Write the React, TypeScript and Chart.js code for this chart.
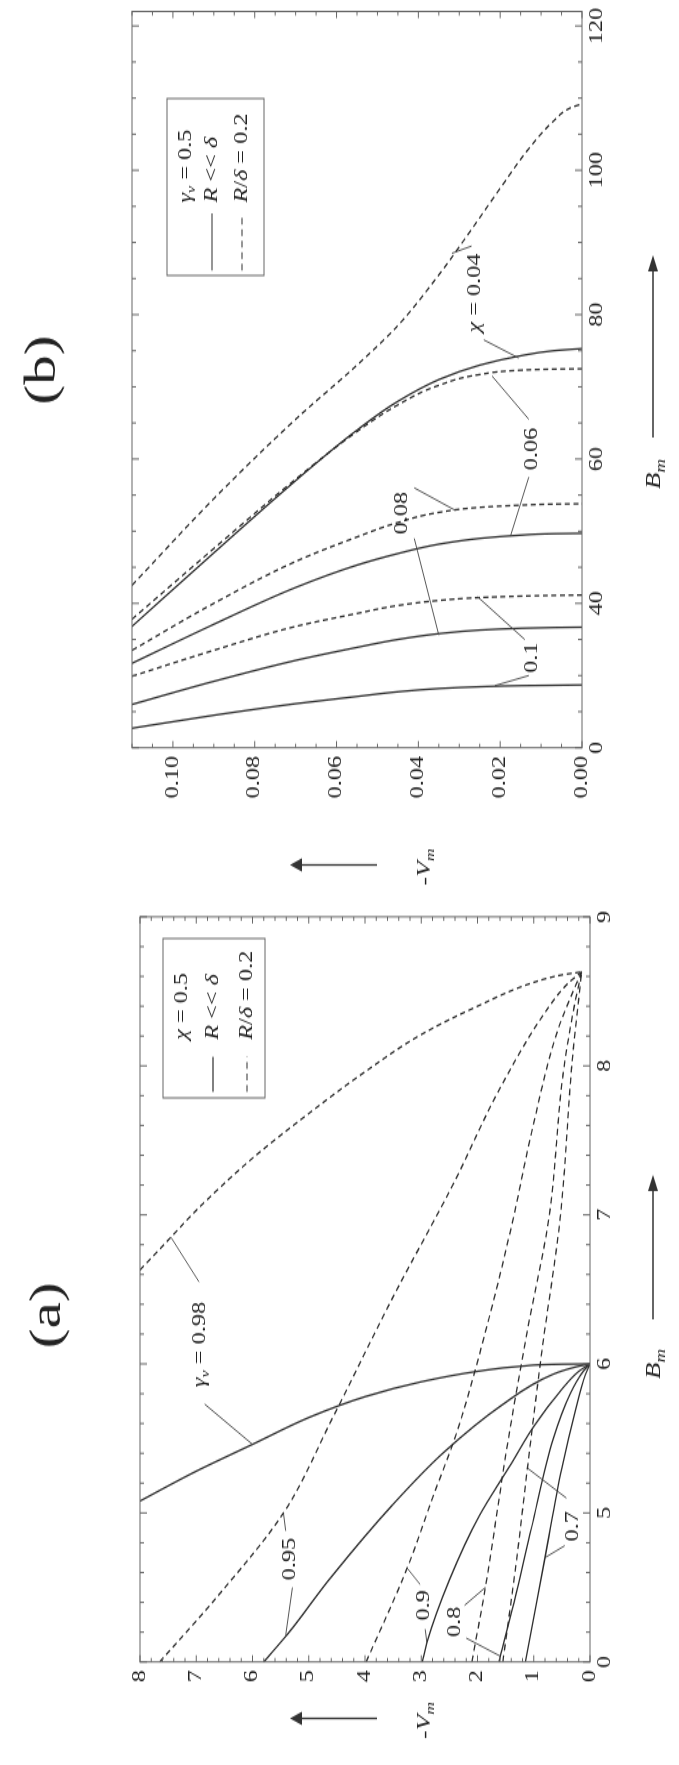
import React, { useEffect, useRef } from "react";
import { Chart, registerables } from "chart.js";
Chart.register(...registerables);

const SERIF = '"Liberation Serif", "Times New Roman", Times, serif';
const PAGE_H = 1765;
const LAND_W = 1307;
const LAND_H = 679;
const STRETCH = PAGE_H / LAND_W;

// ---------------- Panel (a): x = B_m, y = -V_m ----------------
const aBTicks = [4, 5, 6, 7, 8, 9];
const aBTickLabels = ["0", "5", "6", "7", "8", "9"];
const aVTicks = [0, 1, 2, 3, 4, 5, 6, 7, 8];

// solid curves (R << delta)
const aS098_V = [8, 7, 6, 5, 4, 3, 2, 1.2, 0.5, 0];
const aS098_B = [5.08, 5.28, 5.46, 5.64, 5.78, 5.88, 5.95, 5.985, 5.998, 6.0];
const aS095_V = [5.8, 5.37, 4.6, 3.52, 2.59, 1.58, 0.66, 0.25, 0];
const aS095_B = [4.0, 4.19, 4.57, 5.05, 5.41, 5.72, 5.93, 5.98, 6.0];
const aS090_V = [2.98, 2.9, 2.5, 1.97, 1.4, 1.0, 0.5, 0.2, 0];
const aS090_B = [4.0, 4.13, 4.55, 4.98, 5.33, 5.58, 5.83, 5.95, 6.0];
const aS080_V = [1.62, 1.35, 1.04, 0.65, 0.35, 0.12, 0];
const aS080_B = [4.0, 4.4, 4.9, 5.5, 5.8, 5.95, 6.0];
const aS070_V = [1.15, 0.95, 0.8, 0.5, 0.25, 0.08, 0];
const aS070_B = [4.0, 4.4, 4.7, 5.3, 5.7, 5.93, 6.0];
// dashed curves (R/delta = 0.2)
const aD098_V = [8, 7.45, 7, 6, 5, 4, 3, 2, 1, 0.5, 0.15];
const aD098_B = [6.63, 6.85, 7.03, 7.38, 7.68, 7.96, 8.21, 8.4, 8.56, 8.61, 8.63];
const aD095_V = [7.65, 6.6, 5.45, 4.56, 3.5, 2.44, 1.6, 0.76, 0.4, 0.15];
const aD095_B = [4.0, 4.45, 5.0, 5.65, 6.45, 7.2, 7.85, 8.38, 8.55, 8.63];
const aD090_V = [3.98, 3.25, 2.8, 2.36, 1.8, 1.38, 1.04, 0.59, 0.3, 0.15];
const aD090_B = [4.0, 4.63, 5.1, 5.55, 6.3, 6.95, 7.55, 8.22, 8.5, 8.63];
const aD080_V = [2.1, 1.86, 1.45, 1.1, 0.73, 0.48, 0.28, 0.15];
const aD080_B = [4.0, 4.5, 5.5, 6.25, 6.98, 7.94, 8.4, 8.63];
const aD070_V = [1.55, 1.3, 1.1, 0.85, 0.53, 0.31, 0.2, 0.15];
const aD070_B = [4.0, 4.7, 5.34, 6.1, 6.98, 8.06, 8.45, 8.63];

// ---------------- Panel (b): x = B_m, y = -V_m ----------------
const bBTicks = [20, 40, 60, 80, 100, 120];
const bBTickLabels = ["0", "40", "60", "80", "100", "120"];
const bVTicks = [0, 0.02, 0.04, 0.06, 0.08, 0.1];
const bV = [0.11, 0.09, 0.07, 0.055, 0.045, 0.035, 0.025, 0.015, 0.007, 0];
const bS004_B = [36.8, 47.0, 57.0, 64.0, 68.0, 71.0, 73.0, 74.3, 75.0, 75.3];
const bS006_B = [31.7, 37.1, 42.2, 45.3, 46.9, 48.2, 49.0, 49.45, 49.65, 49.7];
const bS008_B = [26.0, 29.2, 32.1, 33.9, 35.0, 35.8, 36.3, 36.55, 36.65, 36.7];
const bS010_B = [22.7, 24.5, 26.1, 27.1, 27.75, 28.2, 28.45, 28.6, 28.65, 28.7];
const bD004_V = [0.11, 0.09, 0.07, 0.055, 0.045, 0.035, 0.028, 0.02, 0.013, 0.007, 0.003, 0];
const bD004_B = [42.5, 54.5, 65.5, 73.0, 78.5, 85.5, 91.0, 97.5, 103.0, 106.8, 108.6, 109.2];
const bD006_B = [37.8, 47.6, 57.2, 63.8, 67.5, 70.2, 71.7, 72.3, 72.45, 72.5];
const bD008_B = [33.5, 40.0, 45.8, 49.2, 51.2, 52.6, 53.3, 53.6, 53.75, 53.8];
const bD010_B = [29.9, 33.5, 36.8, 38.6, 39.7, 40.4, 40.8, 41.0, 41.1, 41.15];

type Seg = { t: string; it?: boolean; sub?: boolean };
type CurveLabel = { segs: Seg[]; at: [number, number]; leaders: number[][] };

// curve annotations: [B, V] anchor + leader segments [B1, V1, B2, V2]
const aLabels: CurveLabel[] = [
  { segs: [{ t: "γ", it: true }, { t: "v", it: true, sub: true }, { t: " = 0.98" }], at: [6.13, 6.92],
    leaders: [[6.55, 6.95, 6.85, 7.45], [5.73, 6.85, 5.46, 6.0]] },
  { segs: [{ t: "0.95" }], at: [4.69, 5.33], leaders: [[4.88, 5.41, 5.0, 5.45], [4.5, 5.29, 4.18, 5.41]] },
  { segs: [{ t: "0.9" }], at: [4.38, 2.94], leaders: [[4.52, 3.02, 4.63, 3.25], [4.22, 2.93, 4.13, 2.9]] },
  { segs: [{ t: "0.8" }], at: [4.27, 2.4], leaders: [[4.38, 2.23, 4.5, 1.86], [4.16, 2.2, 4.04, 1.6]] },
  { segs: [{ t: "0.7" }], at: [4.91, 0.3], leaders: [[5.1, 0.42, 5.3, 1.11], [4.78, 0.45, 4.7, 0.8]] },
];
const bLabels: CurveLabel[] = [
  { segs: [{ t: "χ", it: true }, { t: " = 0.04" }], at: [83, 0.026], leaders: [[89.5, 0.027, 88.5, 0.0318], [76.5, 0.024, 74.0, 0.0155]] },
  { segs: [{ t: "0.06" }], at: [61.4, 0.0122], leaders: [[65.5, 0.013, 71.5, 0.022], [57.5, 0.013, 49.3, 0.0175]] },
  { segs: [{ t: "0.08" }], at: [52.5, 0.044], leaders: [[56, 0.041, 52.9, 0.031], [49, 0.041, 35.6, 0.035]] },
  { segs: [{ t: "0.1" }], at: [32.5, 0.0122], leaders: [[35, 0.014, 40.9, 0.0255], [30, 0.013, 28.6, 0.0213]] },
];

const LINE = "#2e2e2e";
const FRAME = "#666";
const TEXT = "#222";

function segFont(size: number, s: Seg) {
  const px = s.sub ? Math.round(size * 0.68) : size;
  return `${s.it ? "italic " : ""}${px}px ${SERIF}`;
}
function richWidth(ctx: CanvasRenderingContext2D, segs: Seg[], size: number) {
  let w = 0;
  for (const s of segs) { ctx.font = segFont(size, s); w += ctx.measureText(s.t).width; }
  return w;
}
function drawRich(ctx: CanvasRenderingContext2D, segs: Seg[], x: number, y: number, size: number, align: "left" | "center") {
  const w = richWidth(ctx, segs, size);
  let cx = align === "center" ? x - w / 2 : x;
  ctx.textAlign = "left";
  ctx.textBaseline = "middle";
  ctx.fillStyle = TEXT;
  for (const s of segs) {
    ctx.font = segFont(size, s);
    ctx.fillText(s.t, cx, s.sub ? y + size * 0.3 : y);
    cx += ctx.measureText(s.t).width;
  }
}
function line(ctx: CanvasRenderingContext2D, x1: number, y1: number, x2: number, y2: number) {
  ctx.beginPath(); ctx.moveTo(x1, y1); ctx.lineTo(x2, y2); ctx.stroke();
}
function arrow(ctx: CanvasRenderingContext2D, x1: number, y1: number, x2: number, y2: number, head: number, half: number) {
  ctx.strokeStyle = "#333"; ctx.lineWidth = 1.3; ctx.setLineDash([]);
  const ang = Math.atan2(y2 - y1, x2 - x1);
  line(ctx, x1, y1, x2 - Math.cos(ang) * head * 0.6, y2 - Math.sin(ang) * head * 0.6);
  ctx.fillStyle = "#333";
  ctx.beginPath();
  ctx.moveTo(x2, y2);
  ctx.lineTo(x2 - Math.cos(ang) * head - Math.sin(ang) * half, y2 - Math.sin(ang) * head + Math.cos(ang) * half);
  ctx.lineTo(x2 - Math.cos(ang) * head + Math.sin(ang) * half, y2 - Math.sin(ang) * head - Math.cos(ang) * half);
  ctx.closePath(); ctx.fill();
}

type Decor = {
  title: string; titleX: number; titleY: number;
  xMin: number; xMax: number; xMinor: number; xMajor: number[];
  yMin: number; yMax: number; yMinor: number; yMajor: number[];
  vLabelX: number; vLabelY: number; vArrowX: number; vArrowY1: number; vArrowY2: number;
  bLabelX: number; bLabelY: number; bArrowX1: number; bArrowX2: number; bArrowY: number;
  legendBox: number[]; legendRows: { y: number; kind: "none" | "solid" | "dash"; segs: Seg[] }[];
  legendLineX: number[]; legendTextX: number;
  labels: CurveLabel[];
};

function decorPlugin(d: Decor) {
  return {
    id: "decor",
    afterDraw(chart: any) {
      const ctx: CanvasRenderingContext2D = chart.ctx;
      const a = chart.chartArea;
      const xs = chart.scales.x, ys = chart.scales.y;
      ctx.save();
      ctx.strokeStyle = FRAME; ctx.lineWidth = 1; ctx.setLineDash([]);
      ctx.strokeRect(a.left, a.top, a.right - a.left, a.bottom - a.top);
      const isMajor = (v: number, arr: number[]) => arr.some((m) => Math.abs(m - v) < 1e-9);
      const nx = Math.round((d.xMax - d.xMin) / d.xMinor);
      for (let i = 0; i <= nx; i++) {
        const v = d.xMin + i * d.xMinor;
        const p = xs.getPixelForValue(v);
        const len = isMajor(v, d.xMajor) ? 7 : 4;
        line(ctx, p, a.bottom, p, a.bottom - len);
        line(ctx, p, a.top, p, a.top + len);
      }
      const ny = Math.round((d.yMax - d.yMin) / d.yMinor);
      for (let i = 0; i <= ny; i++) {
        const v = d.yMin + i * d.yMinor;
        const p = ys.getPixelForValue(v);
        const len = isMajor(v, d.yMajor) ? 5 : 3;
        line(ctx, a.left, p, a.left + len, p);
        line(ctx, a.right, p, a.right - len, p);
      }
      ctx.fillStyle = TEXT; ctx.font = `44px ${SERIF}`; ctx.textAlign = "center"; ctx.textBaseline = "middle";
      ctx.fillText(d.title, d.titleX, d.titleY);
      drawRich(ctx, [{ t: "-" }, { t: "V", it: true }, { t: "m", it: true, sub: true }], d.vLabelX, d.vLabelY, 19, "center");
      arrow(ctx, d.vArrowX, d.vArrowY1, d.vArrowX, d.vArrowY2, 12, 5);
      drawRich(ctx, [{ t: "B", it: true }, { t: "m", it: true, sub: true }], d.bLabelX, d.bLabelY, 20, "center");
      arrow(ctx, d.bArrowX1, d.bArrowY, d.bArrowX2, d.bArrowY, 12, 5);
      const [lx1, ly1, lx2, ly2] = d.legendBox;
      ctx.strokeStyle = FRAME; ctx.lineWidth = 1; ctx.setLineDash([]);
      ctx.strokeRect(lx1, ly1, lx2 - lx1, ly2 - ly1);
      for (const r of d.legendRows) {
        if (r.kind !== "none") {
          ctx.strokeStyle = LINE; ctx.lineWidth = 1.2;
          ctx.setLineDash(r.kind === "dash" ? [5, 3.5] : []);
          line(ctx, d.legendLineX[0], r.y, d.legendLineX[1], r.y);
          ctx.setLineDash([]);
        }
        drawRich(ctx, r.segs, d.legendTextX, r.y, 18, "left");
      }
      ctx.strokeStyle = "#444"; ctx.lineWidth = 0.9; ctx.setLineDash([]);
      for (const lb of d.labels) {
        for (const L of lb.leaders) {
          line(ctx, xs.getPixelForValue(L[0]), ys.getPixelForValue(L[1]), xs.getPixelForValue(L[2]), ys.getPixelForValue(L[3]));
        }
        drawRich(ctx, lb.segs, xs.getPixelForValue(lb.at[0]), ys.getPixelForValue(lb.at[1]), 18, "center");
      }
      ctx.restore();
    },
  };
}

function series(B: number[], V: number[], dashed: boolean) {
  return {
    data: B.map((b, i) => ({ x: b, y: V[i] })),
    showLine: true,
    borderColor: LINE,
    borderWidth: 1.3,
    borderDash: dashed ? [5, 3.5] : [],
    pointRadius: 0,
    cubicInterpolationMode: "monotone",
    fill: false,
  };
}

function makeConfig(opts: {
  datasets: any[]; xMin: number; xMax: number; xTicks: number[]; xLabels: string[];
  yMin: number; yMax: number; yTicks: number[]; yFmt: (v: number) => string;
  yAxisW: number; padding: any; decor: Decor;
}) {
  return {
    type: "scatter",
    data: { datasets: opts.datasets },
    options: {
      animation: false,
      responsive: false,
      maintainAspectRatio: false,
      devicePixelRatio: 1,
      layout: { padding: opts.padding },
      plugins: { legend: { display: false }, tooltip: { enabled: false }, title: { display: false } },
      scales: {
        x: {
          type: "linear", min: opts.xMin, max: opts.xMax,
          grid: { display: false, drawTicks: false }, border: { display: false },
          afterBuildTicks: (s: any) => { s.ticks = opts.xTicks.map((v) => ({ value: v })); },
          afterFit: (s: any) => { s.height = 30; },
          ticks: {
            autoSkip: false, maxRotation: 0, minRotation: 0, padding: 4, color: TEXT,
            font: { family: SERIF, size: 18 },
            callback: (v: number) => { const i = opts.xTicks.findIndex((t) => Math.abs(t - v) < 1e-9); return i >= 0 ? opts.xLabels[i] : ""; },
          },
        },
        y: {
          type: "linear", min: opts.yMin, max: opts.yMax,
          grid: { display: false, drawTicks: false }, border: { display: false },
          afterBuildTicks: (s: any) => { s.ticks = opts.yTicks.map((v) => ({ value: v })); },
          afterFit: (s: any) => { s.width = opts.yAxisW; },
          ticks: { autoSkip: false, padding: 6, color: TEXT, font: { family: SERIF, size: 18 }, callback: (v: number) => opts.yFmt(v) },
        },
      },
    },
    plugins: [decorPlugin(opts.decor)],
  };
}

function configA() {
  const datasets = [
    series(aS098_B, aS098_V, false), series(aS095_B, aS095_V, false), series(aS090_B, aS090_V, false),
    series(aS080_B, aS080_V, false), series(aS070_B, aS070_V, false),
    series(aD098_B, aD098_V, true), series(aD095_B, aD095_V, true), series(aD090_B, aD090_V, true),
    series(aD080_B, aD080_V, true), series(aD070_B, aD070_V, true),
  ];
  return makeConfig({
    datasets, xMin: 4, xMax: 9, xTicks: aBTicks, xLabels: aBTickLabels,
    yMin: 0, yMax: 8, yTicks: aVTicks, yFmt: (v) => String(Math.round(v)),
    yAxisW: 30, padding: { left: 46.3, right: 11.9, top: 140, bottom: 59 },
    decor: {
      title: "(a)", titleX: 333, titleY: 48,
      xMin: 4, xMax: 9, xMinor: 0.2, xMajor: aBTicks, yMin: 0, yMax: 8, yMinor: 0.2, yMajor: aVTicks,
      vLabelX: 33, vLabelY: 425, vArrowX: 34.5, vArrowY1: 377, vArrowY2: 290,
      bLabelX: 297, bLabelY: 655, bArrowX1: 330, bArrowX2: 437, bArrowY: 653,
      legendBox: [494, 163, 612, 265],
      legendRows: [
        { y: 182, kind: "none", segs: [{ t: "χ", it: true }, { t: " = 0.5" }] },
        { y: 213, kind: "solid", segs: [{ t: "R", it: true }, { t: " << " }, { t: "δ", it: true }] },
        { y: 247, kind: "dash", segs: [{ t: "R", it: true }, { t: "/" }, { t: "δ", it: true }, { t: " = 0.2" }] },
      ],
      legendLineX: [498.5, 524.4], legendTextX: 537,
      labels: aLabels,
    },
  });
}

function configB() {
  const datasets = [
    series(bS004_B, bV, false), series(bS006_B, bV, false), series(bS008_B, bV, false), series(bS010_B, bV, false),
    series(bD004_B, bD004_V, true), series(bD006_B, bV, true), series(bD008_B, bV, true), series(bD010_B, bV, true),
  ];
  return makeConfig({
    datasets, xMin: 20, xMax: 122, xTicks: bBTicks, xLabels: bBTickLabels,
    yMin: 0, yMax: 0.11, yTicks: bVTicks, yFmt: (v) => v.toFixed(2),
    yAxisW: 45, padding: { left: 68.3, right: 8.5, top: 132, bottom: 67 },
    decor: {
      title: "(b)", titleX: 393, titleY: 43,
      xMin: 20, xMax: 120, xMinor: 5, xMajor: bBTicks, yMin: 0, yMax: 0.11, yMinor: 0.005, yMajor: bVTicks,
      vLabelX: 25, vLabelY: 425, vArrowX: 26.5, vArrowY1: 377, vArrowY2: 290,
      bLabelX: 316, bLabelY: 655, bArrowX1: 343, bArrowX2: 478, bArrowY: 653,
      legendBox: [463, 167, 594, 264],
      legendRows: [
        { y: 186, kind: "none", segs: [{ t: "γ", it: true }, { t: "v", it: true, sub: true }, { t: " = 0.5" }] },
        { y: 212, kind: "solid", segs: [{ t: "R", it: true }, { t: " << " }, { t: "δ", it: true }] },
        { y: 242, kind: "dash", segs: [{ t: "R", it: true }, { t: "/" }, { t: "δ", it: true }, { t: " = 0.2" }] },
      ],
      legendLineX: [466.7, 509], legendTextX: 517,
      labels: bLabels,
    },
  });
}

function Panel({ make, left, width }: { make: () => any; left: number; width: number }) {
  const ref = useRef<HTMLCanvasElement>(null);
  useEffect(() => {
    const chart = new Chart(ref.current as HTMLCanvasElement, make());
    return () => chart.destroy();
  }, []);
  return (
    <canvas ref={ref} width={width} height={LAND_H}
      style={{ position: "absolute", left, top: 0, width, height: LAND_H }} />
  );
}

export default function App() {
  return (
    <div style={{
      position: "absolute", left: 0, top: 0, width: LAND_W, height: LAND_H, background: "#fff",
      transformOrigin: "0 0", transform: `translateY(${PAGE_H}px) rotate(-90deg) scaleX(${STRETCH})`,
    }}>
      <Panel make={configA} left={0} width={640} />
      <Panel make={configB} left={640} width={667} />
    </div>
  );
}
